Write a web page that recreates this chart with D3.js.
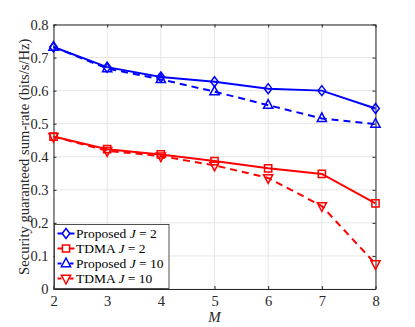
<!DOCTYPE html>
<html>
<head>
<meta charset="utf-8">
<script src="https://cdn.jsdelivr.net/npm/d3@7"></script>
<style>
  body { margin: 0; background: #fff; }
  svg text { font-family: "Liberation Serif", "DejaVu Serif", serif; }
</style>
</head>
<body>
<svg id="chart" width="415" height="327" font-family="Liberation Serif, DejaVu Serif, serif"></svg>
<script>
const mValues = [2, 3, 4, 5, 6, 7, 8];
const proposedJ2 = [0.732, 0.671, 0.641, 0.627, 0.606, 0.600, 0.546];
const tdmaJ2 = [0.461, 0.423, 0.407, 0.387, 0.365, 0.348, 0.259];
const proposedJ10 = [0.732, 0.667, 0.634, 0.597, 0.556, 0.516, 0.499];
const tdmaJ10 = [0.461, 0.418, 0.402, 0.374, 0.336, 0.251, 0.076];
const yTicks = [0, 0.1, 0.2, 0.3, 0.4, 0.5, 0.6, 0.7, 0.8];

const seriesList = [
  { name: "Proposed", j: 2, values: proposedJ2, color: "#0000ff", dash: null, marker: "diamond" },
  { name: "TDMA", j: 2, values: tdmaJ2, color: "#ff0000", dash: null, marker: "square" },
  { name: "Proposed", j: 10, values: proposedJ10, color: "#0000ff", dash: "7,5", marker: "up" },
  { name: "TDMA", j: 10, values: tdmaJ10, color: "#ff0000", dash: "7,5", marker: "down" }
];

const margin = { left: 53.5, right: 39.5, top: 24.5, bottom: 38 };
const width = 415, height = 327;
const axisColor = "#262626";

const svg = d3.select("#chart");
const x = d3.scaleLinear().domain([2, 8]).range([margin.left, width - margin.right]);
const y = d3.scaleLinear().domain([0, 0.8]).range([height - margin.bottom, margin.top]);

// grid
svg.append("g").selectAll("line").data(mValues).join("line")
  .attr("x1", d => x(d)).attr("x2", d => x(d))
  .attr("y1", y(0)).attr("y2", y(0.8))
  .attr("stroke", "#e6e6e6").attr("stroke-width", 1);
svg.append("g").selectAll("line").data(yTicks).join("line")
  .attr("x1", x(2)).attr("x2", x(8))
  .attr("y1", d => y(d)).attr("y2", d => y(d))
  .attr("stroke", "#e6e6e6").attr("stroke-width", 1);

// axes (ticks inward, mirrored on top/right like a boxed matlab plot)
const xAxis = d3.axisBottom(x).tickValues(mValues).tickSizeInner(-3).tickSizeOuter(0).tickPadding(7)
  .tickFormat(d3.format("d"));
const yAxis = d3.axisLeft(y).tickValues(yTicks).tickSizeInner(-3).tickSizeOuter(0).tickPadding(5)
  .tickFormat(d => d === 0 ? "0" : d3.format(".1f")(d));
const xTop = d3.axisTop(x).tickValues(mValues).tickSizeInner(-3).tickSizeOuter(0).tickFormat("");
const yRight = d3.axisRight(y).tickValues(yTicks).tickSizeInner(-3).tickSizeOuter(0).tickFormat("");

const gx = svg.append("g").attr("transform", `translate(0,${y(0)})`).call(xAxis);
const gy = svg.append("g").attr("transform", `translate(${x(2)},0)`).call(yAxis);
const gt = svg.append("g").attr("transform", `translate(0,${y(0.8)})`).call(xTop);
const gr = svg.append("g").attr("transform", `translate(${x(8)},0)`).call(yRight);
[gx, gy, gt, gr].forEach(g => {
  g.attr("font-family", null).attr("font-size", null);
  g.selectAll("path").attr("stroke", axisColor);
  g.selectAll("line").attr("stroke", axisColor);
  g.selectAll("text").attr("fill", axisColor).style("font-size", "14.5px");
});

// labels
svg.append("text")
  .attr("transform", `translate(29,${(y(0) + y(0.8)) / 2}) rotate(-90)`)
  .attr("text-anchor", "middle")
  .attr("fill", axisColor)
  .style("font-size", "14.6px")
  .text("Security guaranteed sum-rate (bits/s/Hz)");

svg.append("text")
  .attr("x", (x(2) + x(8)) / 2).attr("y", 322)
  .attr("text-anchor", "middle")
  .attr("fill", axisColor)
  .style("font-size", "15px").style("font-style", "italic")
  .text("M");

function markerPath(type) {
  if (type === "diamond") return "M0,-5L3.8,0L0,5L-3.8,0Z";
  if (type === "square") return "M-3.6,-3.6L3.6,-3.6L3.6,3.6L-3.6,3.6Z";
  if (type === "up") return "M0,-5.5L4.6,3.2L-4.6,3.2Z";
  return "M0,5.5L4.6,-3.2L-4.6,-3.2Z";
}

const line = d3.line().x((d, i) => x(mValues[i])).y(d => y(d));

seriesList.forEach(s => {
  svg.append("path")
    .datum(s.values)
    .attr("d", line)
    .attr("fill", "none")
    .attr("stroke", s.color)
    .attr("stroke-width", 2)
    .attr("stroke-dasharray", s.dash);
  svg.append("g").selectAll("path").data(s.values).join("path")
    .attr("transform", (d, i) => `translate(${x(mValues[i])},${y(d)})`)
    .attr("d", markerPath(s.marker))
    .attr("fill", "none")
    .attr("stroke", s.color)
    .attr("stroke-width", 1.5);
});

// legend
const legend = svg.append("g").attr("transform", "translate(54.5,224.5)");
legend.append("rect")
  .attr("width", 114.5).attr("height", 64)
  .attr("fill", "#fff").attr("stroke", axisColor).attr("stroke-width", 0.8);

seriesList.forEach((s, i) => {
  const row = legend.append("g").attr("transform", `translate(0,${9 + i * 15})`);
  row.append("line").attr("x1", 3).attr("x2", 20).attr("y1", 0).attr("y2", 0)
    .attr("stroke", s.color).attr("stroke-width", 2)
    .attr("stroke-dasharray", s.dash ? "4,2" : null);
  row.append("path").attr("transform", "translate(11.5,0)")
    .attr("d", markerPath(s.marker))
    .attr("fill", "#fff").attr("stroke", s.color).attr("stroke-width", 1.5);
  const t = row.append("text").attr("x", 21.5).attr("y", 4.8)
    .attr("fill", "#000").style("font-size", "13.5px");
  t.append("tspan").text(s.name + " ");
  t.append("tspan").style("font-style", "italic").text("J");
  t.append("tspan").text(" = " + s.j);
});
</script>
</body>
</html>
